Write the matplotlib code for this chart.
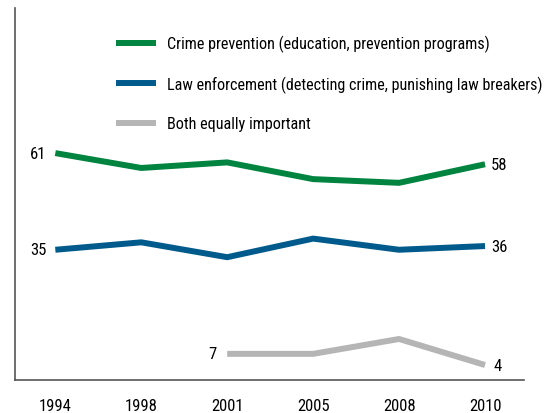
import matplotlib.pyplot as plt
from matplotlib import font_manager
import numpy as np

# Pick a narrow font if one is installed
narrow = None
for f in font_manager.fontManager.ttflist:
    if f.name in ('Liberation Sans Narrow', 'DejaVu Sans Condensed', 'Roboto Condensed'):
        narrow = (f.name, 'normal')
        break
    if f.name == 'DejaVu Sans' and f.stretch == 'condensed':
        narrow = ('DejaVu Sans', 'condensed')
if narrow is None:
    narrow = ('DejaVu Sans', 'normal')
plt.rcParams['font.family'] = [narrow[0], 'DejaVu Sans']
plt.rcParams['font.stretch'] = narrow[1]

# Survey years (equally spaced on the chart)
years = ["1994", "1998", "2001", "2005", "2008", "2010"]

# Percent saying each approach is more important
prevention = [61, 57, 58.5, 54, 53, 58]
enforcement = [35, 37, 33, 38, 35, 36]
both = [np.nan, np.nan, 7, 7, 11, 4]

labels = ["Crime prevention (education, prevention programs)",
          "Law enforcement (detecting crime, punishing law breakers)",
          "Both equally important"]

green = '#00843f'
blue = '#005b8c'
gray = '#b5b5b5'

fig = plt.figure(figsize=(5.53, 4.14), dpi=100)
ax = fig.add_axes([0.027, 0.08, 0.92, 0.898])

x = np.arange(len(years))
ax.plot(x, prevention, color=green, lw=4.3, label=labels[0], solid_capstyle='butt')
ax.plot(x, enforcement, color=blue, lw=4.3, label=labels[1], solid_capstyle='butt')
ax.plot(x, both, color=gray, lw=4.3, label=labels[2], solid_capstyle='butt')

# End-point value labels
fs = 12
ax.text(x[0] - 0.1, prevention[0], "61", ha='right', va='center', fontsize=fs)
ax.text(x[-1] + 0.07, prevention[-1], "58", ha='left', va='center', fontsize=fs)
ax.text(x[0] - 0.1, enforcement[0], "35", ha='right', va='center', fontsize=fs)
ax.text(x[-1] + 0.07, enforcement[-1], "36", ha='left', va='center', fontsize=fs)
ax.text(x[2] - 0.12, both[2], "7", ha='right', va='center', fontsize=fs)
ax.text(x[-1] + 0.1, both[-1], "4", ha='left', va='center', fontsize=fs)

ax.set_xlim(-0.47, 5.45)
ax.set_ylim(0, 100)
ax.set_xticks(x)
ax.set_xticklabels(years, fontsize=fs)
ax.set_yticks([])
ax.tick_params(axis='x', length=0, pad=13)

for side in ['top', 'right']:
    ax.spines[side].set_visible(False)
for side in ['left', 'bottom']:
    ax.spines[side].set_color('#555555')
    ax.spines[side].set_linewidth(1.2)

leg = ax.legend(loc='upper left', bbox_to_anchor=(0.186, 0.945), frameon=False,
                fontsize=11.6, handlelength=2.5, handletextpad=0.65, labelspacing=1.45,
                borderaxespad=0)

fig.savefig("out.png", dpi=100)
